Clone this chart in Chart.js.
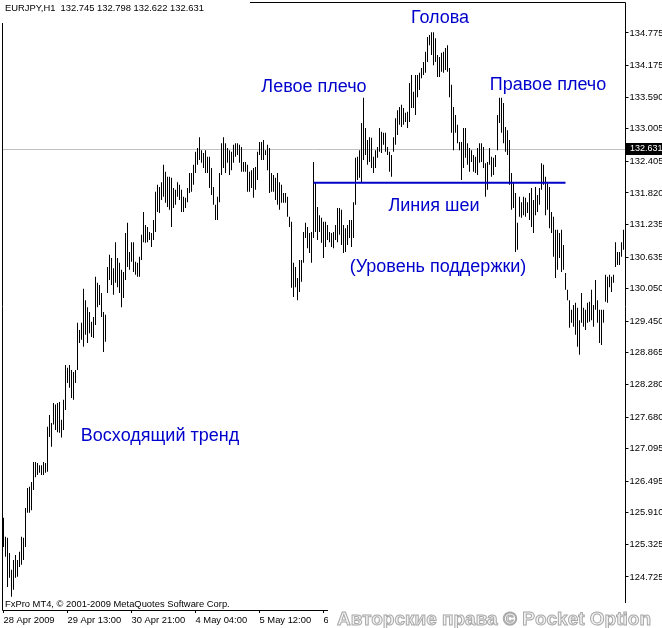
<!DOCTYPE html>
<html>
<head>
<meta charset="utf-8">
<script src="https://cdn.jsdelivr.net/npm/chart.js@4.4.0/dist/chart.umd.min.js"></script>
<style>
  html, body { margin: 0; padding: 0; background: #fff; }
</style>
</head>
<body>
<canvas id="chart" width="662" height="628"></canvas>
<script>
// EURJPY H1 bars, high / low per bar
const highs = [
  125.82,125.47,125.45,125.17,124.86,125.04,125.13,125.04,125.19,125.47,
  125.45,126.00,126.37,126.39,126.48,126.85,126.85,126.83,126.79,126.79,
  126.85,126.83,127.50,127.72,127.57,127.94,127.91,127.94,127.96,127.63,
  128.00,128.64,128.59,128.64,128.55,128.51,128.55,129.42,129.29,129.42,
  130.05,129.84,129.71,129.62,129.44,129.53,130.27,130.16,130.12,129.97,
  129.62,129.57,130.45,130.68,130.62,130.43,130.91,130.62,130.53,130.40,
  130.36,131.08,131.27,130.73,130.91,130.91,130.55,130.53,130.64,131.05,
  131.47,131.23,131.19,131.10,131.08,131.32,131.84,131.97,131.93,
  132.02,132.34,132.21,132.12,132.12,132.10,131.91,131.88,132.02,131.97,
  131.88,131.75,131.73,131.91,132.19,132.19,132.34,132.58,132.65,132.85,
  132.61,132.56,132.61,132.49,132.49,132.28,131.93,131.60,131.75,132.19,
  132.74,132.85,132.74,132.65,132.61,132.58,132.71,132.74,132.74,132.71,
  132.67,132.39,132.39,132.34,132.21,132.24,132.28,132.30,132.58,132.76,
  132.76,132.80,132.61,132.71,132.65,132.19,132.15,132.10,132.19,132.02,
  131.97,131.82,131.82,131.75,131.38,131.29,130.53,130.45,130.25,130.58,
  130.58,131.10,131.27,131.19,131.08,131.10,132.39,132.02,131.56,131.41,
  131.36,131.29,131.29,131.23,131.10,131.08,131.10,131.23,131.54,131.54,
  131.51,131.23,131.17,131.23,131.32,131.32,131.65,132.47,132.49,132.61,
  133.11,133.58,133.02,132.80,132.85,132.84,132.49,132.61,132.67,133.02,
  132.95,132.93,132.93,132.67,132.58,132.52,132.85,133.20,133.35,133.41,
  133.45,133.39,133.30,133.32,133.85,134.00,133.69,134.00,134.00,134.04,
  134.13,134.24,134.43,134.70,134.74,134.79,134.79,134.68,134.37,134.33,
  134.41,134.43,134.50,134.55,134.13,133.82,133.41,133.26,133.08,132.76,
  132.76,133.02,133.02,132.74,132.65,
  132.61,132.52,132.49,132.65,132.74,132.74,132.67,132.37,132.39,132.65,
  132.49,132.47,132.52,133.26,133.58,133.58,133.48,133.04,132.98,132.80,
  132.19,132.02,131.82,131.27,131.75,131.65,131.75,131.73,131.65,131.82,
  131.91,131.69,131.93,131.78,131.91,132.37,132.34,132.12,132.00,131.93,
  131.47,131.38,131.14,131.14,131.08,131.14,130.86,130.34,130.03,129.84,
  129.66,129.75,129.79,129.70,129.47,129.97,129.70,129.66,129.79,129.81,
  130.03,129.75,130.21,129.84,129.66,129.66,129.66,130.31,130.27,130.31,
  130.27,130.31,130.91,130.73,130.73,130.91,131.14
];
const lows = [
  125.28,125.10,124.54,124.71,124.36,124.49,124.71,124.73,124.91,124.95,
  125.04,125.28,125.91,125.91,125.96,126.33,126.57,126.61,126.65,126.61,
  126.61,126.65,126.67,127.31,127.13,127.54,127.44,127.40,127.39,127.30,
  127.44,127.81,128.31,128.22,128.03,128.00,128.31,128.55,129.05,129.11,
  128.98,129.20,129.05,129.23,129.16,129.14,129.38,129.71,129.75,129.53,
  128.88,129.07,129.97,130.21,130.12,129.94,130.16,130.08,129.97,129.71,
  129.88,130.21,130.45,130.40,130.55,130.36,130.31,130.27,130.27,130.58,
  130.91,130.90,130.91,130.95,130.82,130.95,131.10,131.47,131.45,
  131.69,131.75,131.64,131.56,131.51,131.19,131.54,131.60,131.75,131.69,
  131.47,131.47,131.54,131.65,131.82,131.84,131.97,132.19,132.34,132.43,
  132.38,132.28,132.19,132.19,131.91,131.78,131.60,131.32,131.32,131.65,
  132.15,132.28,132.19,132.38,132.15,132.24,132.38,132.49,132.52,132.38,
  132.21,132.21,132.21,131.84,131.84,131.91,131.73,131.88,132.06,132.52,
  132.43,132.43,132.52,132.24,131.82,131.84,131.84,131.69,131.60,131.51,
  131.64,131.64,131.64,131.38,131.19,130.07,129.90,130.08,129.84,129.99,
  130.18,130.53,130.99,130.80,130.71,130.53,130.99,131.10,130.95,131.10,
  130.90,130.62,130.82,130.95,130.91,130.82,130.80,130.95,130.91,131.05,
  130.86,130.71,130.73,130.86,130.99,130.82,130.99,131.60,132.06,132.10,
  132.02,132.43,132.52,132.34,132.39,132.28,132.19,132.28,132.47,132.58,
  132.56,132.71,132.58,132.52,132.21,132.12,132.58,132.71,132.89,133.08,
  133.04,133.08,133.13,133.02,133.13,133.39,133.39,133.26,133.59,133.72,
  133.94,134.00,134.04,134.24,134.55,134.37,134.18,134.24,133.96,133.96,
  134.06,134.04,134.09,134.06,133.59,132.93,132.61,132.93,132.74,132.61,
  132.06,132.28,132.47,132.34,132.21,
  132.39,132.21,132.19,132.15,132.38,132.39,132.28,131.75,131.88,132.34,
  132.12,132.15,132.30,132.61,133.11,132.93,132.74,132.58,132.52,131.97,
  131.51,131.54,130.73,130.77,131.38,131.36,131.41,131.38,131.45,131.32,
  131.19,131.08,131.41,131.47,131.60,131.88,131.97,131.41,131.51,131.17,
  131.08,130.64,130.25,130.40,130.62,130.36,130.40,130.03,129.84,129.33,
  129.42,129.35,129.20,128.98,128.83,129.42,129.35,129.29,129.42,129.44,
  129.47,129.35,129.66,129.42,129.05,129.01,129.42,129.81,129.79,130.08,
  129.99,130.16,130.45,130.49,130.49,130.64,130.77
];
const timeLabels = ['28 Apr 2009', '29 Apr 13:00', '30 Apr 21:00', '4 May 04:00', '5 May 12:00', '6 May 20:00'];
const barsPerTimeLabel = 32;
const priceTicks = [134.775, 134.175, 133.590, 133.005, 132.405, 131.820, 131.235, 130.635, 130.050,
  129.450, 128.865, 128.280, 127.680, 127.095, 126.495, 125.910, 125.325, 124.725];
const neckline = 132.01;
const necklineFrom = 155;
const necklineTo = 281;
const bidPrice = 132.631;
const header = 'EURJPY,H1  132.745 132.798 132.622 132.631';
const copyright = 'FxPro MT4, \u00a9 2001-2009 MetaQuotes Software Corp.';
const watermark = 'Авторские права \u00a9 Pocket Option';

Chart.defaults.font.family = '"Liberation Sans", Arial, sans-serif';

const labels = highs.map((_, i) => (i % barsPerTimeLabel === 0 ? (timeLabels[i / barsPerTimeLabel] || '') : ''));
const bars = highs.map((h, i) => [lows[i], h]);
const neck = labels.map((_, i) => (i === necklineFrom || i === necklineTo ? neckline : null));

const overlay = {
  id: 'overlay',
  beforeDatasetsDraw(chart) {
    const { ctx, scales } = chart;
    const yb = Math.round(scales.y.getPixelForValue(bidPrice)) + 0.5;
    ctx.save();
    ctx.strokeStyle = '#c0c0c0';
    ctx.lineWidth = 1;
    ctx.beginPath();
    ctx.moveTo(2, yb);
    ctx.lineTo(625, yb);
    ctx.stroke();
    ctx.restore();
  },
  afterDraw(chart) {
    const { ctx, scales } = chart;
    ctx.save();
    // frame
    ctx.strokeStyle = '#000';
    ctx.lineWidth = 1;
    ctx.beginPath();
    ctx.moveTo(2.5, 2.5);
    ctx.lineTo(625.5, 2.5);
    ctx.lineTo(625.5, 610.5);
    ctx.lineTo(2.5, 610.5);
    ctx.closePath();
    ctx.stroke();

    // header and copyright
    ctx.fillStyle = '#fff';
    ctx.fillRect(0, 0, 250, 23);
    ctx.fillStyle = '#000';
    ctx.font = '9.4px "Liberation Sans"';
    ctx.textAlign = 'left';
    ctx.textBaseline = 'alphabetic';
    ctx.fillText(header, 5, 11);
    ctx.fillText(copyright, 5, 607);

    // pattern notes
    ctx.fillStyle = '#0000cc';
    ctx.font = '18px "Liberation Sans"';
    ctx.textAlign = 'center';
    ctx.fillText('Голова', 440, 23);
    ctx.fillText('Левое плечо', 314, 92);
    ctx.fillText('Правое плечо', 548, 90);
    ctx.fillText('Линия шеи', 434, 211);
    ctx.fillText('(Уровень поддержки)', 438, 272);
    ctx.fillText('Восходящий тренд', 160, 441);

    // bid price tag
    const yb = Math.round(scales.y.getPixelForValue(bidPrice));
    ctx.fillStyle = '#000';
    ctx.fillRect(626, yb - 6, 36, 12);
    ctx.fillStyle = '#fff';
    ctx.font = '9px "Liberation Sans"';
    ctx.textAlign = 'left';
    ctx.textBaseline = 'middle';
    ctx.fillText(bidPrice.toFixed(3), 630, yb);

    // watermark
    ctx.fillStyle = '#fff';
    ctx.fillRect(328, 603, 334, 25);
    ctx.font = 'bold 19px "Liberation Sans"';
    ctx.textBaseline = 'alphabetic';
    ctx.fillStyle = '#f4f4f4';
    ctx.strokeStyle = '#a8a8a8';
    ctx.lineWidth = 1;
    ctx.fillText(watermark, 337, 625);
    ctx.strokeText(watermark, 337, 625);
    ctx.restore();
  }
};

new Chart(document.getElementById('chart'), {
  type: 'bar',
  data: {
    labels: labels,
    datasets: [
      {
        type: 'line',
        data: neck,
        spanGaps: true,
        borderColor: '#0000c8',
        borderWidth: 2,
        pointRadius: 0,
        order: 0
      },
      {
        data: bars,
        backgroundColor: '#000',
        borderWidth: 0,
        barThickness: 1,
        inflateAmount: 0,
        order: 1
      }
    ]
  },
  options: {
    responsive: false,
    animation: false,
    layout: { padding: { left: 2.5, top: 2, right: 0, bottom: 0 } },
    plugins: { legend: { display: false }, tooltip: { enabled: false } },
    scales: {
      x: {
        border: { display: false },
        grid: {
          display: true,
          drawOnChartArea: false,
          offset: false,
          tickLength: 3,
          color: (c) => (c.index % barsPerTimeLabel === 0 && labels[c.index] ? '#000' : 'rgba(0,0,0,0)')
        },
        ticks: {
          autoSkip: false,
          maxRotation: 0,
          minRotation: 0,
          align: 'start',
          padding: 2,
          color: '#000',
          font: { size: 9.4 }
        },
        afterFit: (s) => { s.height = 18; s.paddingLeft = 0; s.paddingRight = 0; }
      },
      y: {
        position: 'right',
        min: 124.1153,
        max: 135.3477,
        border: { display: false },
        grid: { drawOnChartArea: false, tickLength: 4, color: '#000' },
        afterBuildTicks: (s) => { s.ticks = priceTicks.map((v) => ({ value: v })); },
        ticks: {
          padding: 1,
          color: '#000',
          font: { size: 9.4 },
          callback: (v) => Number(v).toFixed(3)
        },
        afterFit: (s) => { s.width = 37.5; s.paddingTop = 0; s.paddingBottom = 0; }
      }
    }
  },
  plugins: [overlay]
});
</script>
</body>
</html>
